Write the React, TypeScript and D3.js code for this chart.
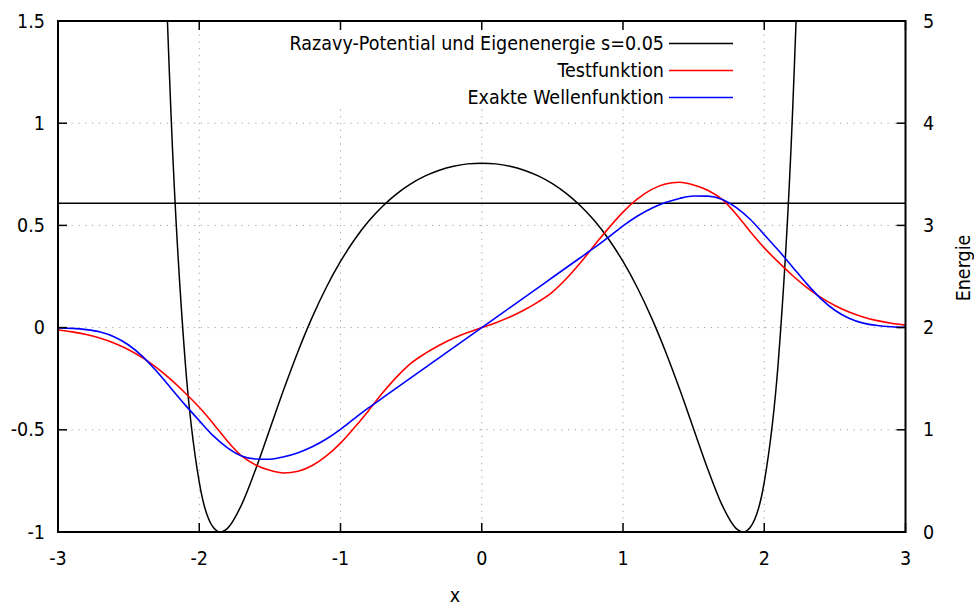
import React from "react";
import * as d3 from "d3";

// Sample positions for the two wave functions
const waveX = [
  -3.0, -2.9, -2.8, -2.7, -2.6, -2.5, -2.4, -2.3, -2.2, -2.1,
  -2.0, -1.9, -1.8, -1.7, -1.6, -1.5, -1.4, -1.3, -1.2, -1.1,
  -1.0, -0.9, -0.8, -0.7, -0.6, -0.5, -0.4, -0.3, -0.2, -0.1,
  0.0, 0.1, 0.2, 0.3, 0.4, 0.5, 0.6, 0.7, 0.8, 0.9,
  1.0, 1.1, 1.2, 1.3, 1.4, 1.5, 1.6, 1.7, 1.8, 1.9,
  2.0, 2.1, 2.2, 2.3, 2.4, 2.5, 2.6, 2.7, 2.8, 2.9, 3.0,
];

// Testfunktion (red)
const testValues = [
  -0.012, -0.021, -0.034, -0.052, -0.076, -0.108, -0.148, -0.197, -0.255, -0.32,
  -0.39, -0.47, -0.556, -0.628, -0.672, -0.698, -0.711, -0.703, -0.675, -0.628,
  -0.565, -0.488, -0.405, -0.318, -0.24, -0.174, -0.126, -0.086, -0.052, -0.024,
  0.0, 0.024, 0.052, 0.086, 0.126, 0.174, 0.24, 0.318, 0.405, 0.488,
  0.565, 0.628, 0.675, 0.703, 0.711, 0.698, 0.672, 0.628, 0.556, 0.47,
  0.39, 0.32, 0.255, 0.197, 0.148, 0.108, 0.076, 0.052, 0.034, 0.021, 0.012,
];

// Exakte Wellenfunktion (blue)
const exactValues = [
  -0.002, -0.004, -0.01, -0.022, -0.046, -0.085, -0.142, -0.215, -0.297, -0.378,
  -0.455, -0.53, -0.588, -0.628, -0.643, -0.644, -0.632, -0.612, -0.583, -0.545,
  -0.498, -0.444, -0.392, -0.343, -0.294, -0.245, -0.196, -0.147, -0.098, -0.049,
  0.0, 0.049, 0.098, 0.147, 0.196, 0.245, 0.294, 0.343, 0.392, 0.444,
  0.498, 0.545, 0.583, 0.612, 0.632, 0.644, 0.643, 0.628, 0.588, 0.53,
  0.455, 0.378, 0.297, 0.215, 0.142, 0.085, 0.046, 0.022, 0.01, 0.004, 0.002,
];

// Razavy potential (right axis)
const potentialX = [
  -2.4, -2.3, -2.2, -2.1, -2.0, -1.9, -1.85, -1.8, -1.7, -1.6, -1.5, -1.4, -1.3,
  -1.2, -1.1, -1.0, -0.9, -0.8, -0.7, -0.6, -0.5, -0.4, -0.3, -0.2, -0.1,
  0.0, 0.1, 0.2, 0.3, 0.4, 0.5, 0.6, 0.7, 0.8, 0.9, 1.0, 1.1, 1.2,
  1.3, 1.4, 1.5, 1.6, 1.7, 1.8, 1.85, 1.9, 2.0, 2.1, 2.2, 2.3, 2.4,
];
const potentialValues = [
  16.0, 8.49, 4.093, 1.676, 0.487, 0.044, 0.0, 0.036, 0.268, 0.617, 1.009, 1.401, 1.769,
  2.102, 2.395, 2.647, 2.862, 3.042, 3.19, 3.311, 3.408, 3.484, 3.54, 3.579, 3.602,
  3.609, 3.602, 3.579, 3.54, 3.484, 3.408, 3.311, 3.19, 3.042, 2.862, 2.647, 2.395, 2.102,
  1.769, 1.401, 1.009, 0.617, 0.268, 0.036, 0.0, 0.044, 0.487, 1.676, 4.093, 8.49, 16.0,
];

// Eigenenergie s=0.05 (right axis)
const eigenEnergy = 3.216;

const xTicks = [-3, -2, -1, 0, 1, 2, 3];
const yTicks = [-1, -0.5, 0, 0.5, 1, 1.5];
const y2Ticks = [0, 1, 2, 3, 4, 5];

const legendLabels = [
  "Razavy-Potential und Eigenenergie s=0.05",
  "Testfunktion",
  "Exakte Wellenfunktion",
];
const legendColors = ["#000000", "#ff0000", "#0000ff"];

const W = 974;
const H = 606;
const L = 58;
const R = 905.5;
const T = 21;
const B = 532;

const FONT = "'DejaVu Sans Condensed', 'DejaVu Sans', sans-serif";

export default function App() {
  const x = d3.scaleLinear().domain([-3, 3]).range([L, R]);
  const y = d3.scaleLinear().domain([-1, 1.5]).range([B, T]);
  const y2 = d3.scaleLinear().domain([0, 5]).range([B, T]);

  const wavePath = (vals: number[]) =>
    d3
      .line<number>()
      .x((_, i) => x(waveX[i]))
      .y((d) => y(d))
      .curve(d3.curveMonotoneX)(vals) || "";

  const testPath = wavePath(testValues);
  const exactPath = wavePath(exactValues);
  const potPath =
    d3
      .line<number>()
      .x((_, i) => x(potentialX[i]))
      .y((d) => y2(d))
      .curve(d3.curveMonotoneX)(potentialValues) || "";

  const tickLen = 9;
  const gridColor = "#a0a0a0";
  const fs = 19.5;

  const legendTextX = 664;
  const legendRowY = [43.5, 70.5, 97.5];

  return (
    <svg
      width={W}
      height={H}
      style={{ position: "absolute", left: 0, top: 0, background: "#fff" }}
      fontFamily={FONT}
      fontStretch="condensed"
    >
      <defs>
        <clipPath id="plotArea">
          <rect x={L} y={T} width={R - L} height={B - T} />
        </clipPath>
      </defs>
      <rect x={0} y={0} width={W} height={H} fill="#fff" />

      {/* grid */}
      <g stroke={gridColor} strokeWidth={1} strokeDasharray="1.2,5.6">
        {xTicks.slice(1, -1).map((t) => (
          <line key={"gx" + t} x1={x(t)} x2={x(t)} y1={T} y2={B} />
        ))}
        {yTicks.slice(1, -1).map((t) => (
          <line key={"gy" + t} x1={L} x2={R} y1={y(t)} y2={y(t)} />
        ))}
      </g>

      {/* legend box (opaque) */}
      <rect x={268} y={28} width={474} height={80} fill="#fff" />

      {/* curves */}
      <g clipPath="url(#plotArea)" fill="none">
        <path d={potPath} stroke="#000" strokeWidth={1.5} />
        <line
          x1={L}
          x2={R}
          y1={y2(eigenEnergy)}
          y2={y2(eigenEnergy)}
          stroke="#000"
          strokeWidth={1.5}
        />
        <path d={testPath} stroke="#ff0000" strokeWidth={1.6} />
        <path d={exactPath} stroke="#0000ff" strokeWidth={1.6} />
      </g>

      {/* legend */}
      {legendLabels.map((lab, i) => (
        <g key={lab}>
          <text
            x={legendTextX}
            y={legendRowY[i]}
            textAnchor="end"
            dominantBaseline="central"
            fontSize={fs}
            fill="#000"
          >
            {lab}
          </text>
          <line
            x1={669}
            x2={733}
            y1={legendRowY[i]}
            y2={legendRowY[i]}
            stroke={legendColors[i]}
            strokeWidth={1.6}
          />
        </g>
      ))}

      {/* ticks */}
      <g stroke="#000" strokeWidth={1.5}>
        {xTicks.map((t) => (
          <g key={"tx" + t}>
            <line x1={x(t)} x2={x(t)} y1={B} y2={B - tickLen} />
            <line x1={x(t)} x2={x(t)} y1={T} y2={T + tickLen} />
          </g>
        ))}
        {yTicks.map((t) => (
          <g key={"ty" + t}>
            <line x1={L} x2={L + tickLen} y1={y(t)} y2={y(t)} />
            <line x1={R} x2={R - tickLen} y1={y(t)} y2={y(t)} />
          </g>
        ))}
      </g>

      {/* frame */}
      <rect
        x={L}
        y={T}
        width={R - L}
        height={B - T}
        fill="none"
        stroke="#000"
        strokeWidth={2}
      />

      {/* tick labels */}
      <g fontSize={fs} fill="#000">
        {xTicks.map((t) => (
          <text
            key={"lx" + t}
            x={x(t)}
            y={558}
            textAnchor="middle"
            dominantBaseline="central"
          >
            {String(t)}
          </text>
        ))}
        {yTicks.map((t) => (
          <text
            key={"ly" + t}
            x={45}
            y={y(t)}
            textAnchor="end"
            dominantBaseline="central"
          >
            {String(t)}
          </text>
        ))}
        {y2Ticks.map((t) => (
          <text
            key={"ly2" + t}
            x={923}
            y={y2(t)}
            textAnchor="start"
            dominantBaseline="central"
          >
            {String(t)}
          </text>
        ))}
        <text x={455} y={595} textAnchor="middle" dominantBaseline="central">
          x
        </text>
        <text
          transform="translate(963,268) rotate(-90)"
          textAnchor="middle"
          dominantBaseline="central"
        >
          Energie
        </text>
      </g>
    </svg>
  );
}
